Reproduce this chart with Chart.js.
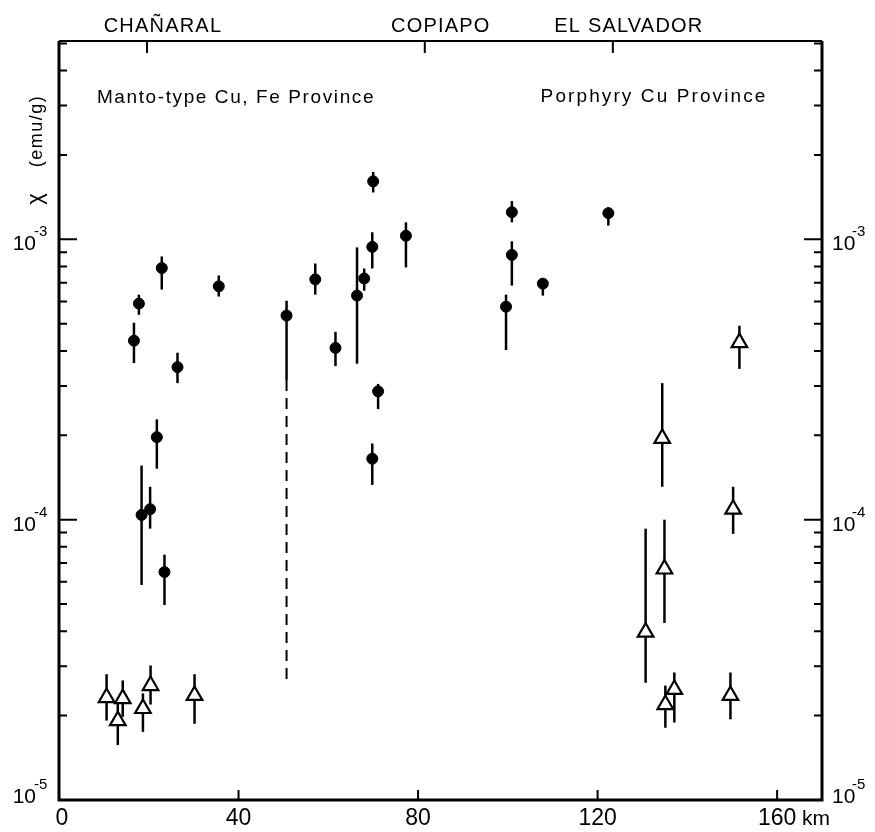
<!DOCTYPE html>
<html>
<head>
<meta charset="utf-8">
<title>Magnetic susceptibility profile</title>
<script src="https://cdn.jsdelivr.net/npm/chart.js@4.4.0/dist/chart.umd.min.js"></script>
<style>
    html, body { margin: 0; padding: 0; background: #fff; }
    #wrap { width: 875px; height: 832px; }
</style>
</head>
<body>
<div id="wrap"><canvas id="chiChart" width="875" height="832"></canvas></div>
<script>
// Data (km along profile, susceptibility in emu/g)
const circleKm  = [16.7, 17.8, 22.9, 26.4, 35.6, 21.8, 18.4, 20.3, 23.5, 50.7, 57.1, 61.6,
                   66.4, 68.0, 69.8, 70.0, 71.1, 69.8, 77.3, 100.9, 100.9, 99.6, 107.8, 122.4];
const circleChi = [4.35e-4, 5.9e-4, 7.9e-4, 3.5e-4, 6.8e-4, 1.97e-4, 1.04e-4, 1.09e-4, 6.5e-5, 5.35e-4, 7.2e-4, 4.1e-4,
                   6.3e-4, 7.25e-4, 9.4e-4, 1.61e-3, 2.87e-4, 1.65e-4, 1.03e-3, 1.25e-3, 8.8e-4, 5.75e-4, 6.95e-4, 1.24e-3];
const circleLo  = [3.62e-4, 5.38e-4, 6.62e-4, 3.07e-4, 6.25e-4, 1.52e-4, 5.85e-5, 9.29e-5, 4.96e-5, 3.15e-4, 6.35e-4, 3.53e-4,
                   3.6e-4, 6.56e-4, 7.87e-4, 1.47e-3, 2.48e-4, 1.33e-4, 7.94e-4, 1.15e-3, 6.84e-4, 4.03e-4, 6.3e-4, 1.12e-3];
const circleHi  = [5.04e-4, 6.35e-4, 8.69e-4, 3.94e-4, 7.43e-4, 2.28e-4, 1.56e-4, 1.31e-4, 7.5e-5, 6.04e-4, 8.2e-4, 4.68e-4,
                   9.36e-4, 7.87e-4, 1.06e-3, 1.74e-3, 3.05e-4, 1.87e-4, 1.15e-3, 1.37e-3, 9.84e-4, 6.35e-4, 7.25e-4, 1.30e-3];

const triangleKm  = [10.6, 13.1, 14.2, 18.7, 20.4, 30.2, 130.7, 134.4, 134.9, 135.1, 137.1, 149.6, 150.2, 151.6];
const triangleChi = [2.32e-5, 1.92e-5, 2.3e-5, 2.12e-5, 2.56e-5, 2.36e-5, 3.97e-5, 1.95e-4, 6.67e-5, 2.19e-5, 2.48e-5, 2.36e-5, 1.09e-4, 4.28e-4];
const triangleLo  = [1.92e-5, 1.57e-5, 1.98e-5, 1.75e-5, 2.19e-5, 1.87e-5, 2.62e-5, 1.31e-4, 4.28e-5, 1.81e-5, 1.89e-5, 1.94e-5, 8.9e-5, 3.45e-4];
const triangleHi  = [2.81e-5, 2.23e-5, 2.67e-5, 2.4e-5, 3.02e-5, 2.81e-5, 9.29e-5, 3.07e-4, 1.0e-4, 2.56e-5, 2.85e-5, 2.85e-5, 1.31e-4, 4.92e-4];

// dashed lower limit below the point at ~51 km
const dashedKm   = [50.7];
const dashedFrom = [3.15e-4];
const dashedTo   = [2.58e-5];

// axis ticks and place names
const xTicks = [0, 40, 80, 120, 160];
const yDecades = [1e-5, 1e-4, 1e-3];
const townKm = [19.6, 81.5, 123.4];
const townNames = ['CHAÑARAL', 'COPIAPO', 'EL SALVADOR'];

const FONT = '"Liberation Sans", Arial, sans-serif';

function toPoints(xs, ys) {
    return xs.map((x, i) => ({ x: x, y: ys[i] }));
}

function drawText(ctx, text, x, y, size, spacing, align) {
    ctx.font = size + 'px ' + FONT;
    ctx.letterSpacing = spacing + 'px';
    ctx.textAlign = align;
    ctx.textBaseline = 'alphabetic';
    ctx.fillText(text, x, y);
}

// Error bars, drawn under the markers
const errorBars = {
    id: 'errorBars',
    beforeDatasetsDraw(chart) {
        const ctx = chart.ctx;
        const xs = chart.scales.x, ys = chart.scales.y;
        ctx.save();
        ctx.strokeStyle = '#000';
        ctx.lineWidth = 2.5;
        const bars = (km, lo, hi) => {
            km.forEach((k, i) => {
                const px = xs.getPixelForValue(k);
                ctx.beginPath();
                ctx.moveTo(px, ys.getPixelForValue(lo[i]));
                ctx.lineTo(px, ys.getPixelForValue(hi[i]));
                ctx.stroke();
            });
        };
        bars(circleKm, circleLo, circleHi);
        bars(triangleKm, triangleLo, triangleHi);

        ctx.setLineDash([11, 7]);
        ctx.lineWidth = 2;
        dashedKm.forEach((k, i) => {
            const px = xs.getPixelForValue(k);
            ctx.beginPath();
            ctx.moveTo(px, ys.getPixelForValue(dashedFrom[i]));
            ctx.lineTo(px, ys.getPixelForValue(dashedTo[i]));
            ctx.stroke();
        });
        ctx.restore();
    }
};

// Frame, inward ticks and all labels
const frame = {
    id: 'frame',
    afterDraw(chart) {
        const ctx = chart.ctx;
        const area = chart.chartArea;
        const xs = chart.scales.x, ys = chart.scales.y;
        ctx.save();
        ctx.strokeStyle = '#000';
        ctx.fillStyle = '#000';

        // box
        ctx.lineWidth = 3;
        ctx.beginPath();
        ctx.moveTo(area.left, area.top);
        ctx.lineTo(area.left, area.bottom);
        ctx.lineTo(area.right, area.bottom);
        ctx.lineTo(area.right, area.top);
        ctx.stroke();
        ctx.lineWidth = 2;
        ctx.beginPath();
        ctx.moveTo(area.left, area.top);
        ctx.lineTo(area.right, area.top);
        ctx.stroke();

        // y ticks, both sides, pointing inward
        ctx.lineWidth = 2;
        const yMax = ys.max;
        yDecades.forEach(d => {
            for (let m = 1; m <= 9; m++) {
                const v = d * m;
                if (v > yMax) break;
                const py = ys.getPixelForValue(v);
                const len = m === 1 ? 18 : 8;
                ctx.beginPath();
                ctx.moveTo(area.left, py);
                ctx.lineTo(area.left + len, py);
                ctx.moveTo(area.right, py);
                ctx.lineTo(area.right - len, py);
                ctx.stroke();
            }
        });

        // x ticks on the bottom
        xTicks.forEach(t => {
            const px = xs.getPixelForValue(t);
            ctx.beginPath();
            ctx.moveTo(px, area.bottom);
            ctx.lineTo(px, area.bottom - 10);
            ctx.stroke();
        });

        // town ticks on the top
        townKm.forEach(t => {
            const px = xs.getPixelForValue(t);
            ctx.beginPath();
            ctx.moveTo(px, area.top);
            ctx.lineTo(px, area.top + 12);
            ctx.stroke();
        });

        // x tick labels
        xTicks.forEach(t => {
            const px = xs.getPixelForValue(t);
            drawText(ctx, String(t), px + (t === 0 ? 3 : 0), area.bottom + 25, 23, 0, 'center');
        });
        drawText(ctx, 'km', xs.getPixelForValue(xTicks[xTicks.length - 1]) + 25, area.bottom + 25, 21, 0, 'left');

        // y tick labels, 10 with exponent
        yDecades.forEach(d => {
            const py = ys.getPixelForValue(d);
            const base = Math.min(py + 11, area.bottom + 3);
            const exp = '-' + Math.abs(Math.round(Math.log10(d)));
            drawText(ctx, '10', area.left - 23, base, 21, 0, 'right');
            drawText(ctx, exp, area.left - 25, base - 14, 15, 0, 'left');
            drawText(ctx, '10', area.right + 10, base, 21, 0, 'left');
            drawText(ctx, exp, area.right + 30, base - 14, 15, 0, 'left');
        });

        // y axis title: chi symbol below the rotated unit
        ctx.save();
        ctx.translate(42, 131);
        ctx.rotate(-Math.PI / 2);
        drawText(ctx, '(emu/g)', 0, 0, 18, 1.5, 'center');
        ctx.restore();
        ctx.save();
        ctx.translate(42, 199);
        ctx.rotate(-Math.PI / 2);
        drawText(ctx, 'χ', 0, 0, 22, 0, 'center');
        ctx.restore();

        // place names above the frame
        townKm.forEach((t, i) => {
            const px = xs.getPixelForValue(t) + 16;
            drawText(ctx, townNames[i], px, area.top - 9, 20, 1.2, 'center');
        });

        // province notes
        drawText(ctx, 'Manto-type Cu, Fe Province', 236, 103, 19, 1.6, 'center');
        drawText(ctx, 'Porphyry Cu Province', 654, 102, 19, 2.1, 'center');

        ctx.restore();
    }
};

const ctx = document.getElementById('chiChart').getContext('2d');
const chiChart = new Chart(ctx, {
    type: 'scatter',
    data: {
        datasets: [{
            label: 'circles',
            data: toPoints(circleKm, circleChi),
            pointStyle: 'circle',
            pointRadius: 5.5,
            backgroundColor: '#000',
            borderColor: '#000',
            borderWidth: 1
        }, {
            label: 'triangles',
            data: toPoints(triangleKm, triangleChi),
            pointStyle: 'triangle',
            pointRadius: 9,
            backgroundColor: '#fff',
            borderColor: '#000',
            borderWidth: 2.2
        }]
    },
    options: {
        responsive: false,
        animation: false,
        devicePixelRatio: 1,
        layout: {
            padding: { left: 59, top: 41, right: 53, bottom: 32 }
        },
        plugins: {
            legend: { display: false },
            tooltip: { enabled: false }
        },
        scales: {
            x: {
                type: 'linear',
                min: 0,
                max: 170,
                display: false
            },
            y: {
                type: 'logarithmic',
                min: 1e-5,
                max: 5.1e-3,
                display: false
            }
        }
    },
    plugins: [errorBars, frame]
});
</script>
</body>
</html>
